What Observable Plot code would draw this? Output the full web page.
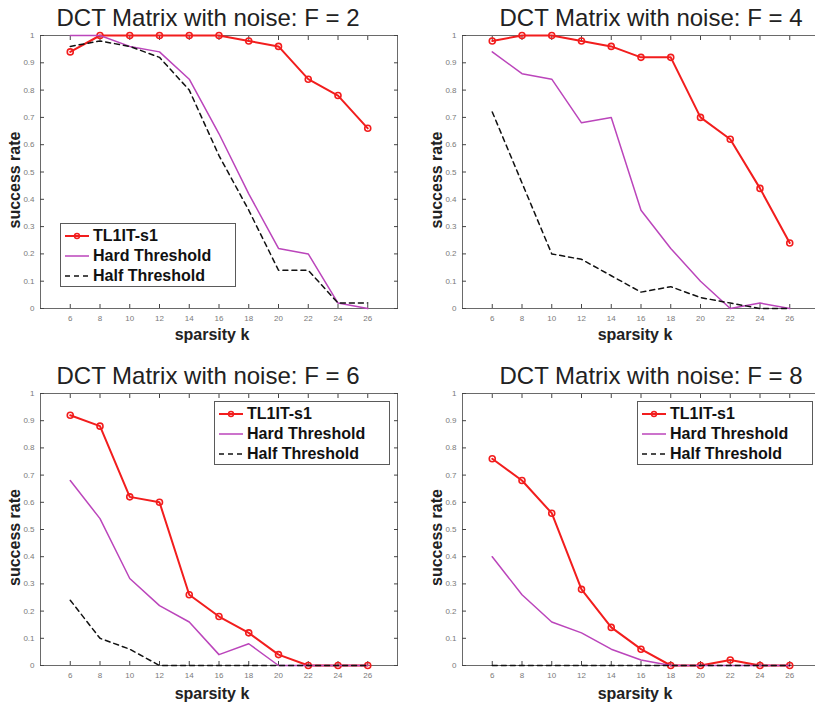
<!DOCTYPE html>
<html><head><meta charset="utf-8">
<script src="https://cdn.jsdelivr.net/npm/d3@7"></script>
<script src="https://cdn.jsdelivr.net/npm/@observablehq/plot@0.6"></script>
<style>
body{margin:0;background:#fff;}
#root{position:relative;width:815px;height:704px;overflow:hidden;font-family:"Liberation Sans",Arial,Helvetica,sans-serif;background:#fff;}
.panel{position:absolute;}
.panel svg{max-width:none !important;}
.legend{position:absolute;box-sizing:border-box;border:1px solid #5a5a5a;background:#fff;font-weight:bold;font-size:16px;color:#111;}
.legend .row{position:absolute;left:4px;height:20px;display:flex;align-items:center;white-space:nowrap;}
.legend svg{margin-right:4px;}
</style></head>
<body><div id="root"></div>
<script>
const sparsity = [6, 8, 10, 12, 14, 16, 18, 20, 22, 24, 26];
const xTicks = [6, 8, 10, 12, 14, 16, 18, 20, 22, 24, 26];
const yTicks = [0, 0.1, 0.2, 0.3, 0.4, 0.5, 0.6, 0.7, 0.8, 0.9, 1];
const seriesNames = ["TL1IT-s1", "Hard Threshold", "Half Threshold"];
const titles = ["DCT Matrix with noise: F = 2", "DCT Matrix with noise: F = 4", "DCT Matrix with noise: F = 6", "DCT Matrix with noise: F = 8"];

const tl1F2  = [0.94, 1.00, 1.00, 1.00, 1.00, 1.00, 0.98, 0.96, 0.84, 0.78, 0.66];
const hardF2 = [1.00, 1.00, 0.96, 0.94, 0.84, 0.64, 0.42, 0.22, 0.20, 0.02, 0.00];
const halfF2 = [0.96, 0.98, 0.96, 0.92, 0.80, 0.56, 0.36, 0.14, 0.14, 0.02, 0.02];

const tl1F4  = [0.98, 1.00, 1.00, 0.98, 0.96, 0.92, 0.92, 0.70, 0.62, 0.44, 0.24];
const hardF4 = [0.94, 0.86, 0.84, 0.68, 0.70, 0.36, 0.22, 0.10, 0.00, 0.02, 0.00];
const halfF4 = [0.72, 0.46, 0.20, 0.18, 0.12, 0.06, 0.08, 0.04, 0.02, 0.00, 0.00];

const tl1F6  = [0.92, 0.88, 0.62, 0.60, 0.26, 0.18, 0.12, 0.04, 0.00, 0.00, 0.00];
const hardF6 = [0.68, 0.54, 0.32, 0.22, 0.16, 0.04, 0.08, 0.00, 0.00, 0.00, 0.00];
const halfF6 = [0.24, 0.10, 0.06, 0.00, 0.00, 0.00, 0.00, 0.00, 0.00, 0.00, 0.00];

const tl1F8  = [0.76, 0.68, 0.56, 0.28, 0.14, 0.06, 0.00, 0.00, 0.02, 0.00, 0.00];
const hardF8 = [0.40, 0.26, 0.16, 0.12, 0.06, 0.02, 0.00, 0.00, 0.00, 0.00, 0.00];
const halfF8 = [0.00, 0.00, 0.00, 0.00, 0.00, 0.00, 0.00, 0.00, 0.00, 0.00, 0.00];

const RED = "#f21d1d", MAG = "#bb45bb", BLK = "#111";
const FONT = '"Liberation Sans", Arial, Helvetica, sans-serif';

const root = document.getElementById("root");

function makePanel(tl, hard, half, title, g) {
  const rows = sparsity.map((k, i) => ({k, tl: tl[i], hard: hard[i], half: half[i]}));
  const chart = Plot.plot({
    width: g.w, height: g.h,
    marginLeft: g.ml, marginRight: g.mr, marginTop: g.mt, marginBottom: g.mb,
    x: {domain: [4, 28]},
    y: {domain: [0, 1]},
    style: {fontFamily: FONT, background: "transparent", overflow: "visible", maxWidth: "none"},
    marks: [
      Plot.frame({stroke: "#6a6a6a", strokeWidth: 1}),
      Plot.axisX(xTicks, {anchor: "bottom", tickSize: 0, tickPadding: 7, fontSize: 8, fill: "#7a7a7a", label: null}),
      Plot.axisX(xTicks, {anchor: "bottom", tickSize: -4, tickFormat: () => "", stroke: "#444", label: null}),
      Plot.axisX(xTicks, {anchor: "top", tickSize: -4, tickFormat: () => "", stroke: "#444", label: null}),
      Plot.axisY(yTicks, {anchor: "left", tickSize: 0, tickPadding: 6, fontSize: 8, fill: "#7a7a7a", label: null, tickFormat: d => d === 0 || d === 1 ? String(d) : d.toFixed(1)}),
      Plot.axisY(yTicks, {anchor: "left", tickSize: -4, tickFormat: () => "", stroke: "#444", label: null}),
      Plot.axisY(yTicks, {anchor: "right", tickSize: -4, tickFormat: () => "", stroke: "#444", label: null}),
      Plot.line(rows, {x: "k", y: "tl", stroke: RED, strokeWidth: 2}),
      Plot.dot(rows, {x: "k", y: "tl", r: 3, stroke: RED, strokeWidth: 1.6, fill: "none"}),
      Plot.line(rows, {x: "k", y: "hard", stroke: MAG, strokeWidth: 1.5}),
      Plot.line(rows, {x: "k", y: "half", stroke: BLK, strokeWidth: 1.5, strokeDasharray: "5,4"}),
      Plot.text([title], {frameAnchor: "top", textAnchor: "middle", lineAnchor: "bottom", dy: -g.tdy, dx: g.tdx, fontSize: 24, fill: "#222"}),
      Plot.text(["success rate"], {frameAnchor: "left", rotate: -90, textAnchor: "middle", lineAnchor: "middle", dx: -26, dy: 8, fontSize: 16, fontWeight: "bold", fill: "#222"}),
      Plot.text(["sparsity k"], {frameAnchor: "bottom", textAnchor: "middle", lineAnchor: "bottom", dy: g.xldy, dx: g.xldx, fontSize: 16, fontWeight: "bold", fill: "#222"})
    ]
  });
  chart.style.maxWidth = "none";
  const div = document.createElement("div");
  div.className = "panel";
  div.style.left = g.left + "px";
  div.style.top = g.top + "px";
  div.style.width = g.w + "px";
  div.style.height = g.h + "px";
  div.appendChild(chart);
  root.appendChild(div);
}

const geoms = [
  {left: 0,   top: 0,   w: 407, h: 350, ml: 40, mr: 10, mt: 35, mb: 42, tdx: -11, tdy: 10, xldx: -7, xldy: 31},
  {left: 407, top: 0,   w: 415, h: 350, ml: 55, mr: 3,  mt: 35, mb: 42, tdx: 10,  tdy: 10, xldx: -6, xldy: 31},
  {left: 0,   top: 350, w: 407, h: 354, ml: 40, mr: 10, mt: 43, mb: 39, tdx: -11, tdy: 10, xldx: -7, xldy: 33},
  {left: 407, top: 350, w: 415, h: 354, ml: 55, mr: 3,  mt: 43, mb: 39, tdx: 10,  tdy: 10, xldx: -6, xldy: 33}
];

makePanel(tl1F2, hardF2, halfF2, titles[0], geoms[0]);
makePanel(tl1F4, hardF4, halfF4, titles[1], geoms[1]);
makePanel(tl1F6, hardF6, halfF6, titles[2], geoms[2]);
makePanel(tl1F8, hardF8, halfF8, titles[3], geoms[3]);

function sample(kind) {
  const ns = "http://www.w3.org/2000/svg";
  const svg = document.createElementNS(ns, "svg");
  svg.setAttribute("width", 24); svg.setAttribute("height", 10);
  const line = document.createElementNS(ns, "line");
  line.setAttribute("x1", 0); line.setAttribute("x2", 24);
  line.setAttribute("y1", 5); line.setAttribute("y2", 5);
  if (kind === 0) { line.setAttribute("stroke", RED); line.setAttribute("stroke-width", 2); }
  if (kind === 1) { line.setAttribute("stroke", MAG); line.setAttribute("stroke-width", 1.5); }
  if (kind === 2) { line.setAttribute("stroke", BLK); line.setAttribute("stroke-width", 1.5); line.setAttribute("stroke-dasharray", "5,4"); }
  svg.appendChild(line);
  if (kind === 0) {
    const c = document.createElementNS(ns, "circle");
    c.setAttribute("cx", 12); c.setAttribute("cy", 5); c.setAttribute("r", 2.5);
    c.setAttribute("fill", "none"); c.setAttribute("stroke", RED); c.setAttribute("stroke-width", 1.4);
    svg.appendChild(c);
  }
  return svg;
}

function makeLegend(x, y) {
  const lg = document.createElement("div");
  lg.className = "legend";
  lg.style.left = x + "px"; lg.style.top = y + "px";
  lg.style.width = "176px"; lg.style.height = "64px";
  seriesNames.forEach((name, i) => {
    const row = document.createElement("div");
    row.className = "row";
    row.style.top = (2 + i * 20) + "px";
    row.appendChild(sample(i));
    const t = document.createElement("span");
    t.textContent = name;
    row.appendChild(t);
    lg.appendChild(row);
  });
  root.appendChild(lg);
}
makeLegend(60, 223);
makeLegend(214, 401);
makeLegend(637, 401);
</script>
</body></html>
